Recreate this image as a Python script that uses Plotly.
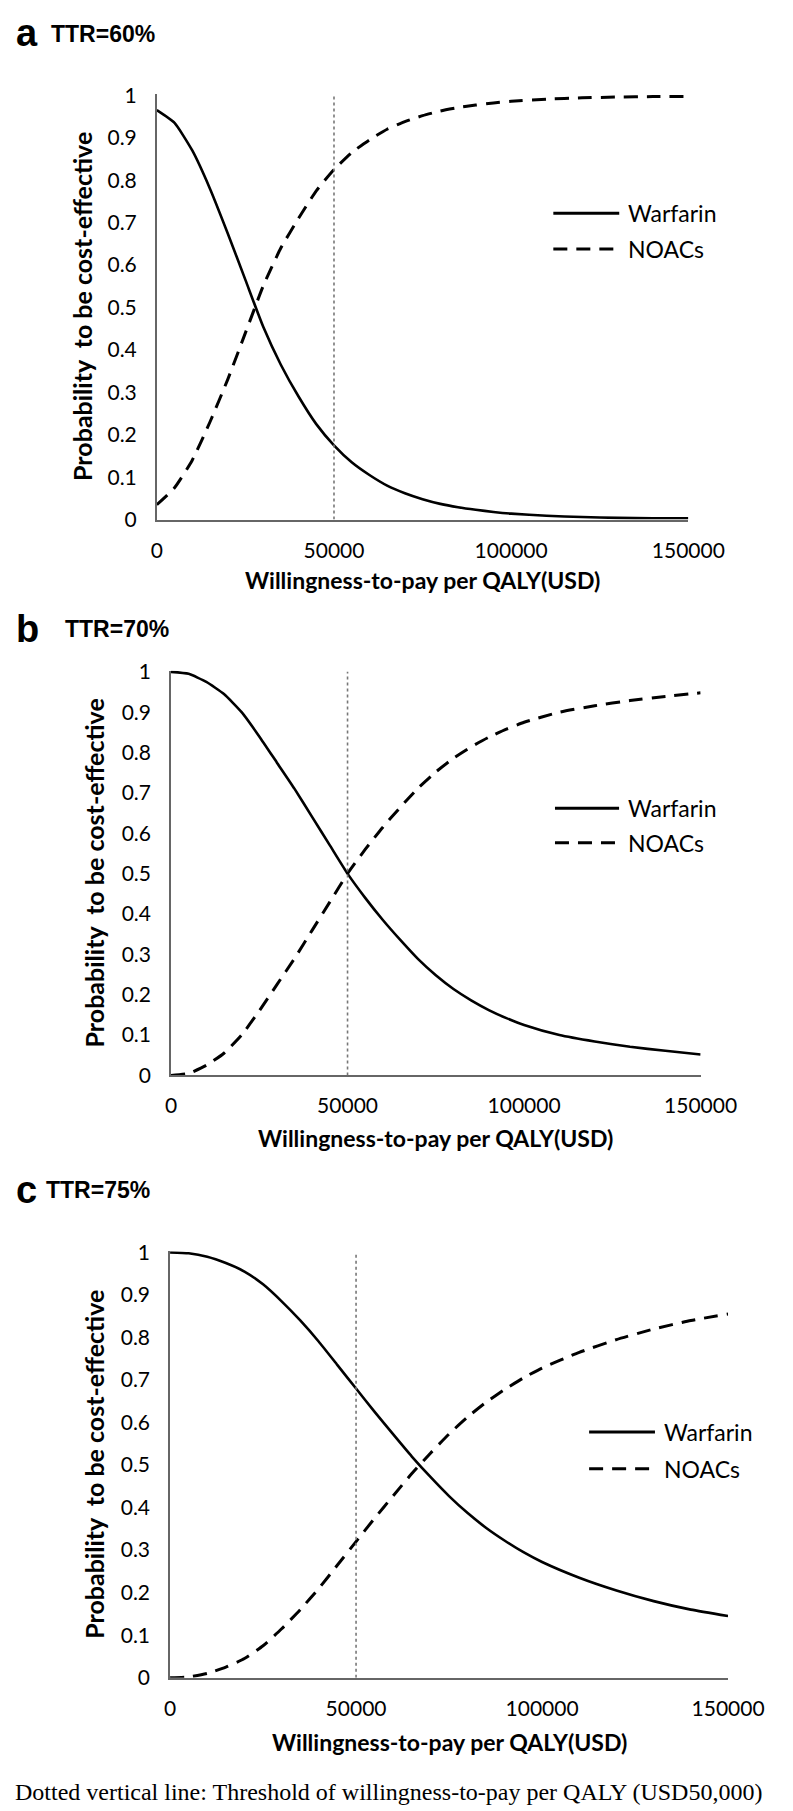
import plotly.graph_objects as go

W, H = 793, 1811

# willingness-to-pay grid (USD per QALY)
wtp = [0, 5000, 10000, 15000, 20000, 25000, 30000, 35000, 40000, 45000,
       50000, 55000, 60000, 65000, 70000, 75000, 80000, 85000, 90000, 95000,
       100000, 110000, 120000, 130000, 140000, 150000]

# panel a, TTR=60%
warfarin_60 = [0.965, 0.935, 0.87, 0.78, 0.675, 0.565, 0.455, 0.365, 0.29, 0.225,
               0.175, 0.135, 0.105, 0.08, 0.062, 0.048, 0.037, 0.029, 0.023, 0.018,
               0.014, 0.009, 0.006, 0.004, 0.003, 0.003]
noacs_60 = [0.035, 0.075, 0.14, 0.23, 0.33, 0.44, 0.55, 0.64, 0.71, 0.775,
            0.825, 0.865, 0.895, 0.92, 0.938, 0.952, 0.963, 0.971, 0.977, 0.982,
            0.986, 0.991, 0.994, 0.996, 0.997, 0.997]

# panel b, TTR=70%
warfarin_70 = [1.0, 0.995, 0.975, 0.945, 0.9, 0.84, 0.775, 0.71, 0.64, 0.57,
               0.5, 0.44, 0.385, 0.335, 0.288, 0.248, 0.214, 0.186, 0.162, 0.142,
               0.125, 0.1, 0.084, 0.071, 0.061, 0.052]
noacs_70 = [0.0, 0.005, 0.025, 0.055, 0.1, 0.16, 0.225, 0.29, 0.36, 0.43,
            0.5, 0.56, 0.615, 0.665, 0.712, 0.752, 0.786, 0.814, 0.838, 0.858,
            0.875, 0.9, 0.916, 0.929, 0.939, 0.948]

# panel c, TTR=75%
warfarin_75 = [1.0, 0.998, 0.99, 0.975, 0.955, 0.925, 0.885, 0.84, 0.79, 0.735,
               0.68, 0.625, 0.572, 0.52, 0.472, 0.427, 0.387, 0.352, 0.322, 0.295,
               0.272, 0.235, 0.205, 0.18, 0.16, 0.145]
noacs_75 = [0.0, 0.002, 0.01, 0.025, 0.045, 0.075, 0.115, 0.16, 0.21, 0.265,
            0.32, 0.375, 0.428, 0.48, 0.528, 0.573, 0.613, 0.648, 0.678, 0.705,
            0.728, 0.765, 0.795, 0.82, 0.84, 0.855]

panel_letters = ["a", "b", "c"]
panel_titles = ["TTR=60%", "TTR=70%", "TTR=75%"]
series_names = ["Warfarin", "NOACs"]
x_ticks = [0, 50000, 100000, 150000]
y_ticks = [0, 0.1, 0.2, 0.3, 0.4, 0.5, 0.6, 0.7, 0.8, 0.9, 1]
threshold = 50000

x_title = "Willingness-to-pay per QALY(USD)"
y_title = "Probability\u00a0 to be cost-effective"
caption = "Dotted vertical line: Threshold of willingness-to-pay per QALY (USD50,000)"

panels = [(warfarin_60, noacs_60), (warfarin_70, noacs_70), (warfarin_75, noacs_75)]

# layout in pixels: plot box (left, right, top, bottom)
boxes = [(151, 713, 75, 506), (166, 726, 659, 1069), (165, 755, 1247, 1679)]
ytitle_px = [72, 85, 85]
xtitle_px = [567, 1132, 1744]
label_px = [(13, 14, 37), (617, 617, 52), (1185, 1185, 32)]  # letter y, title y, title x
legend_pos = [(0.746, 0.870, 0.882, 0.72, 0.636),
              (0.725, 0.846, 0.859, 0.66, 0.575),
              (0.751, 0.869, 0.881, 0.576, 0.49)]

SANS = "Lato, 'Open Sans', sans-serif"
ARIAL = "'Liberation Sans', Arial, sans-serif"
SERIF = "'Liberation Serif', 'Times New Roman', serif"
DASH = "14px,9px"


def px(x):
    return x / W


def py(y):
    return 1 - y / H


fig = go.Figure()
annotations = []
shapes = []

for i, (warf, noac) in enumerate(panels):
    n = "" if i == 0 else str(i + 1)
    xa, ya = "x" + n, "y" + n
    left, right, top, bottom = boxes[i]

    fig.add_trace(go.Scatter(x=wtp, y=warf, mode="lines", name=series_names[0],
                             line=dict(color="black", width=2.6, shape="spline", smoothing=0.5),
                             xaxis=xa, yaxis=ya, showlegend=False))
    fig.add_trace(go.Scatter(x=wtp, y=noac, mode="lines", name=series_names[1],
                             line=dict(color="black", width=3, dash=DASH, shape="spline", smoothing=0.5),
                             xaxis=xa, yaxis=ya, showlegend=False))

    axis_common = dict(showgrid=False, zeroline=False, showline=True, linecolor="#666",
                       linewidth=1.6, ticks="", tickfont=dict(family=SANS, size=21, color="black"))
    fig.update_layout(**{
        "xaxis" + n: dict(domain=[px(left), px(right)], range=[0, 150000], anchor=ya,
                          tickvals=x_ticks, ticktext=[str(v) for v in x_ticks],
                          ticklabelstandoff=11, **axis_common),
        "yaxis" + n: dict(domain=[py(bottom), py(top)], range=[0, 1.003], anchor=xa,
                          tickvals=y_ticks, ticktext=[f"{v:g}" for v in y_ticks],
                          ticklabelstandoff=14, **axis_common),
    })

    # threshold line
    shapes.append(dict(type="line", xref=xa, yref=ya, x0=threshold, x1=threshold, y0=0, y1=1,
                       line=dict(color="#777", width=1.6, dash="dot")))

    # legend drawn by hand so the sample lines match the original length
    lx0, lx1, ltx, ly_w, ly_n = legend_pos[i]
    for name, ly, dash in [(series_names[0], ly_w, "solid"), (series_names[1], ly_n, DASH)]:
        shapes.append(dict(type="line", xref=xa + " domain", yref=ya + " domain",
                           x0=lx0, x1=lx1, y0=ly, y1=ly,
                           line=dict(color="black", width=3, dash=dash)))
        annotations.append(dict(text=name, xref=xa + " domain", yref=ya + " domain",
                                x=ltx, y=ly, xanchor="left", yanchor="middle", showarrow=False,
                                font=dict(family=SANS, size=23, color="black")))

    # axis titles
    annotations.append(dict(text=x_title, xref="paper", yref="paper",
                            x=px((left + right) / 2), y=py(xtitle_px[i]),
                            xanchor="center", yanchor="middle", showarrow=False,
                            font=dict(family=SANS, size=23, color="black", weight="bold")))
    annotations.append(dict(text=y_title, xref="paper", yref="paper",
                            x=px(ytitle_px[i]), y=py((top + bottom) / 2), textangle=-90,
                            xanchor="center", yanchor="middle", showarrow=False,
                            font=dict(family=SANS, size=25, color="black", weight="bold")))

    # panel letter and title
    ly_letter, ly_title, lx_title = label_px[i]
    annotations.append(dict(text=panel_letters[i], xref="paper", yref="paper",
                            x=px(0), y=py(ly_letter), xanchor="left", yanchor="middle",
                            showarrow=False,
                            font=dict(family=ARIAL, size=38, color="black", weight="bold")))
    annotations.append(dict(text=panel_titles[i], xref="paper", yref="paper",
                            x=px(lx_title), y=py(ly_title), xanchor="left", yanchor="middle",
                            showarrow=False,
                            font=dict(family=ARIAL, size=23, color="black", weight="bold")))

annotations.append(dict(text=caption, xref="paper", yref="paper", x=px(396), y=py(1795),
                        xanchor="center", yanchor="middle", showarrow=False,
                        font=dict(family=SERIF, size=24, color="black")))

fig.update_layout(width=W, height=H, margin=dict(l=0, r=0, t=0, b=0),
                  paper_bgcolor="white", plot_bgcolor="white",
                  showlegend=False, annotations=annotations, shapes=shapes)

fig.write_html("out.html")
